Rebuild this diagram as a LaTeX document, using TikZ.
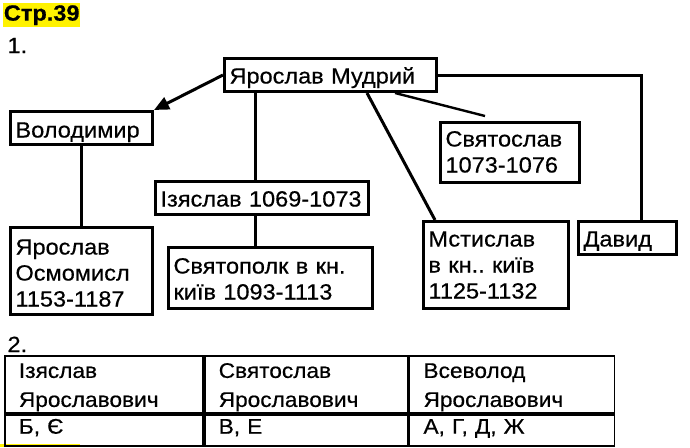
\documentclass[tikz,border=0pt]{standalone}
\usepackage{fontspec}
\setmainfont{Liberation Sans}[FakeStretch=1.07,FakeBold=0.5]
\frenchspacing
\usetikzlibrary{positioning,calc}
\usetikzlibrary{arrows.meta}

\begin{document}
   \begin{tikzpicture}[x=1pt,y=1pt,
         box/.style = {draw, line width=3pt, inner xsep=5pt, inner ysep=0pt,
      align=left, anchor=north west, font=\fontsize{22}{26}\selectfont},
         single/.style = {text height=25pt, text depth=8pt},
         link/.style = {line width=3pt},
         cell/.style = {draw, line width=1.8pt, inner xsep=14pt, inner ysep=0pt,
      align=left, anchor=north west, font=\fontsize{21.2}{29}\selectfont}]

      \useasboundingbox (0,0) rectangle (690,-447);

      % page label
      \node[fill=yellow, inner sep=0pt, minimum width=77pt, minimum height=24pt,
         anchor=north west, font=\fontsize{22}{26}\selectfont\bfseries]
         (page) at (3,-3) {Стр.39};
      \node[anchor=base west, font=\fontsize{22}{26}\selectfont] (task1) at (4,-53) {1.};

      % family tree
      \node[box, single, text width=202pt] (mudryi) at (223,-57) {Ярослав Мудрий};
      \node[box, text width=132pt, text height=26pt, text depth=7pt,
         below left=17pt and 69pt of mudryi] (volod) {Володимир};
      \node[box, single, text width=203pt,
         below right=34pt and 0pt of volod] (izyas) {Ізяслав 1069-1073};
      \node[box, text width=129pt, text height=24pt, text depth=36pt,
         below right=28pt and 1pt of mudryi] (svyat) {Святослав\\1073-1076};
      \node[box, text width=132pt, text height=27pt, text depth=60pt,
         below=80pt of volod] (osmo) {Ярослав\\Осмомисл\\1153-1187};
      \node[box, text width=194pt, text height=26pt, text depth=35pt] (svpolk) at (167,-246)
         {Святополк в кн.\\київ 1093-1113};
      \node[box, text width=135pt, text height=25pt, text depth=62pt] (mstys) at (422,-220)
         {Мстислав\\в кн.. київ\\1125-1132};
      \node[box, single, text width=88pt,
         right=7pt of mstys.north east, anchor=north west] (david) {Давид};

      % sons
      \coordinate (trunk) at ($(mudryi.south west)+(32,0)$);
      \draw[link] (trunk) -- (trunk |- izyas.north);
      \draw[link] (izyas.south -| trunk) -- (svpolk.north -| trunk);
      \draw[link, -{Triangle[length=15pt,width=13pt]}] (mudryi.west) -- (volod.north east);
      \draw[link] (volod.south) -- (osmo.north);
      \draw[link] ($(mudryi.south west)+(144,0)$) -- ($(mstys.north west)+(13,0)$);
      \draw[line width=2.4pt] ($(mudryi.south east)+(-43,0)$) -- ($(svyat.north west)+(46,5)$);
      \draw[link] (mudryi.east) -| ($(david.north west)+(64,0)$);

      % table
      \fill[yellow] (0,-444) rectangle (80,-447);
      \node[anchor=base west, font=\fontsize{22}{26}\selectfont] (task2) at (4,-352) {2.};
      \node[cell, text width=170pt, text height=22pt, text depth=35pt] (c11) at (4,-355)
         {Ізяслав\\Ярославович};
      \node[cell, text width=175pt, text height=22pt, text depth=35pt,
         right=0pt of c11.north east, anchor=north west] (c12) {Святослав\\Ярославович};
      \node[cell, text width=177pt, text height=22pt, text depth=35pt,
         right=0pt of c12.north east, anchor=north west] (c13) {Всеволод\\Ярославович};
      \node[cell, text width=170pt, text height=19pt, text depth=12pt,
         below=0pt of c11.south west, anchor=north west] (c21) {Б, Є};
      \node[cell, text width=175pt, text height=19pt, text depth=12pt,
         below=0pt of c12.south west, anchor=north west] (c22) {В, Е};
      \node[cell, text width=177pt, text height=19pt, text depth=12pt,
         below=0pt of c13.south west, anchor=north west] (c23) {А, Г, Д, Ж};

   \end{tikzpicture}
\end{document}
